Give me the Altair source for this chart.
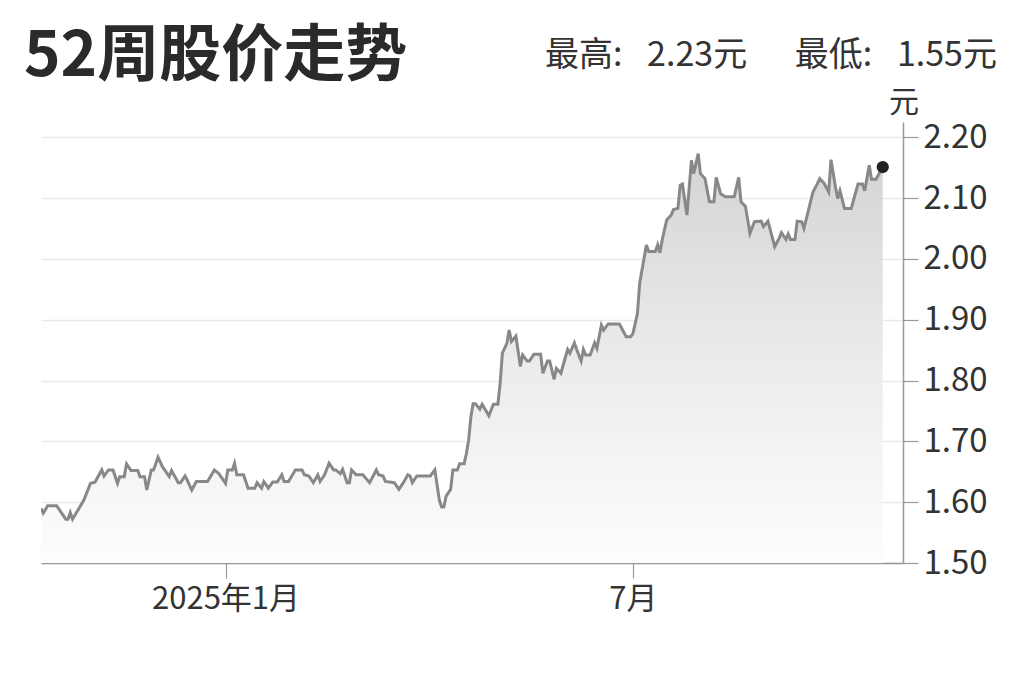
import altair as alt
import pandas as pd

# ---- data ----
day_offsets = [-82, -81, -79, -75, -71, -70, -69, -68, -63, -60, -58, -55, -54, -52, -50, -48, -47, -45, -44, -42,
               -39, -38, -36, -35, -33, -32, -30, -28, -25, -24, -21, -20, -18, -17, -15, -13, -8, -5, -3, 0,
               1, 3, 4, 5, 8, 10, 13, 14, 16, 17, 19, 21, 23, 25, 26, 28, 31, 34, 35, 37,
               39, 41, 42, 44, 46, 48, 49, 51, 52, 54, 55, 56, 58, 61, 64, 67, 68, 70, 71, 75,
               77, 79, 81, 82, 83, 85, 91, 93, 95, 96, 97, 98, 100, 101, 103, 104, 106, 107, 108, 109,
               110, 111, 113, 114, 117, 119, 121, 122, 123, 125, 126, 127, 129, 131, 132, 134, 135, 137, 140, 141,
               143, 144, 146, 147, 149, 152, 153, 155, 156, 158, 159, 160, 162, 164, 165, 167, 168, 170, 175, 178,
               180, 181, 183, 184, 187, 188, 191, 192, 193, 194, 196, 198, 199, 201, 202, 203, 205, 207, 208, 210,
               211, 213, 215, 217, 218, 220, 222, 226, 228, 229, 231, 233, 235, 238, 239, 241, 244, 246, 247, 249,
               250, 251, 253, 254, 256, 257, 261, 263, 264, 266, 268, 269, 271, 272, 273, 275, 278, 281, 283, 284,
               286, 287, 289, 292]
prices = [1.590, 1.582, 1.594, 1.594, 1.572, 1.572, 1.583, 1.572, 1.603, 1.631, 1.633, 1.653, 1.643, 1.653, 1.653, 1.631, 1.642, 1.642, 1.663, 1.652,
          1.652, 1.642, 1.642, 1.620, 1.653, 1.653, 1.674, 1.658, 1.642, 1.652, 1.632, 1.632, 1.643, 1.636, 1.620, 1.634, 1.634, 1.653, 1.647, 1.631,
          1.653, 1.653, 1.664, 1.645, 1.645, 1.623, 1.623, 1.632, 1.623, 1.634, 1.623, 1.633, 1.633, 1.645, 1.634, 1.634, 1.653, 1.653, 1.645, 1.643,
          1.632, 1.645, 1.634, 1.645, 1.664, 1.653, 1.653, 1.647, 1.654, 1.632, 1.632, 1.653, 1.645, 1.645, 1.632, 1.653, 1.645, 1.643, 1.634, 1.632,
          1.621, 1.632, 1.645, 1.643, 1.632, 1.643, 1.643, 1.653, 1.603, 1.592, 1.592, 1.610, 1.621, 1.653, 1.653, 1.663, 1.663, 1.680, 1.702, 1.740,
          1.762, 1.762, 1.753, 1.761, 1.742, 1.761, 1.761, 1.795, 1.845, 1.861, 1.883, 1.864, 1.873, 1.823, 1.842, 1.832, 1.832, 1.843, 1.843, 1.812,
          1.832, 1.832, 1.802, 1.820, 1.812, 1.851, 1.845, 1.862, 1.851, 1.832, 1.851, 1.842, 1.842, 1.862, 1.853, 1.891, 1.883, 1.893, 1.893, 1.872,
          1.872, 1.877, 1.910, 1.960, 2.023, 2.012, 2.012, 2.023, 2.010, 2.031, 2.064, 2.072, 2.081, 2.083, 2.121, 2.123, 2.072, 2.162, 2.140, 2.173,
          2.140, 2.132, 2.094, 2.094, 2.134, 2.107, 2.102, 2.102, 2.134, 2.094, 2.086, 2.042, 2.061, 2.062, 2.053, 2.062, 2.020, 2.034, 2.043, 2.032,
          2.041, 2.032, 2.032, 2.062, 2.061, 2.050, 2.110, 2.124, 2.132, 2.124, 2.110, 2.163, 2.118, 2.099, 2.112, 2.083, 2.083, 2.123, 2.123, 2.112,
          2.154, 2.131, 2.131, 2.151]

base_date = "2025-01-01"
y_ticks = [1.50, 1.60, 1.70, 1.80, 1.90, 2.00, 2.10, 2.20]
title_text = "52周股价走势"
high_text = "最高:\u2002 2.23元"
low_text = "最低:\u2002 1.55元"
unit_text = "元"

FONT = "Noto Sans CJK SC"

dates = pd.Timestamp(base_date) + pd.to_timedelta(day_offsets, unit="D")
df = pd.DataFrame({"date": dates.strftime("%Y/%m/%d"), "price": prices})
last = df.tail(1)

x_enc = alt.X(
    "date:T",
    scale=alt.Scale(domain=[alt.DateTime(year=2024, month=10, date=11),
                            alt.DateTime(year=2025, month=10, date=29)]),
    axis=alt.Axis(
        values=[alt.DateTime(year=2025, month=1, date=1), alt.DateTime(year=2025, month=7, date=1)],
        labelExpr="month(datum.value) == 0 ? year(datum.value) + '年1月' : (month(datum.value) + 1) + '月'",
        title=None, grid=False, tickSize=15, tickColor="#999999", domainColor="#999999",
        domainWidth=1.5, tickWidth=1.2, labelFontSize=31, labelColor="#333333", labelPadding=6,
        labelFont=FONT,
    ),
)
y_scale = alt.Scale(domain=[1.5, 2.225], nice=False, zero=False)
y_enc = alt.Y(
    "price:Q",
    scale=y_scale,
    axis=alt.Axis(
        orient="right", values=y_ticks, format=".2f", title=None,
        grid=True, gridColor="#e9e9e9", gridWidth=1.5,
        tickSize=15, tickColor="#999999", domainColor="#999999", domainWidth=1.5, tickWidth=1.2,
        labelFontSize=33, labelColor="#333333", labelPadding=5, labelFont=FONT,
    ),
)

area = alt.Chart(df).mark_area(
    clip=True,
    color=alt.Gradient(
        gradient="linear",
        stops=[alt.GradientStop(color="#d4d4d4", offset=0),
               alt.GradientStop(color="#ebebeb", offset=0.5),
               alt.GradientStop(color="#fdfdfd", offset=1)],
        x1=1, x2=1, y1=0, y2=1,
    ),
).encode(x=x_enc, y=y_enc, y2=alt.datum(1.5))

line = alt.Chart(df).mark_line(color="#888888", strokeWidth=3, clip=True).encode(
    x=x_enc, y=y_enc
)

dot = alt.Chart(last).mark_point(filled=True, color="#222222", size=150, opacity=1).encode(
    x=x_enc, y=y_enc
)

one = pd.DataFrame({"k": [0]})
title_mark = alt.Chart(one).mark_text(
    text=title_text, font=FONT, fontSize=62, fontWeight="bold", color="#2a2a2a",
    align="left", baseline="middle"
).encode(x=alt.value(-17), y=alt.value(-65))
high_mark = alt.Chart(one).mark_text(
    text=high_text, font=FONT, fontSize=34, color="#333333", align="left", baseline="middle"
).encode(x=alt.value(504), y=alt.value(-66))
low_mark = alt.Chart(one).mark_text(
    text=low_text, font=FONT, fontSize=34, color="#333333", align="right", baseline="middle"
).encode(x=alt.value(956), y=alt.value(-66))
unit_mark = alt.Chart(one).mark_text(
    text=unit_text, font=FONT, fontSize=30, color="#333333", align="center", baseline="middle"
).encode(x=alt.value(863), y=alt.value(-19))

chart = alt.layer(area, line, dot, title_mark, high_mark, low_mark, unit_mark).properties(
    width=862, height=441,
    padding={"left": 33, "top": 114, "right": 105, "bottom": 80},
    autosize=alt.AutoSizeParams(type="none"),
    background="white",
).configure_view(stroke=None)

chart.save("out.html", embed_options={"renderer": "svg", "actions": False})
